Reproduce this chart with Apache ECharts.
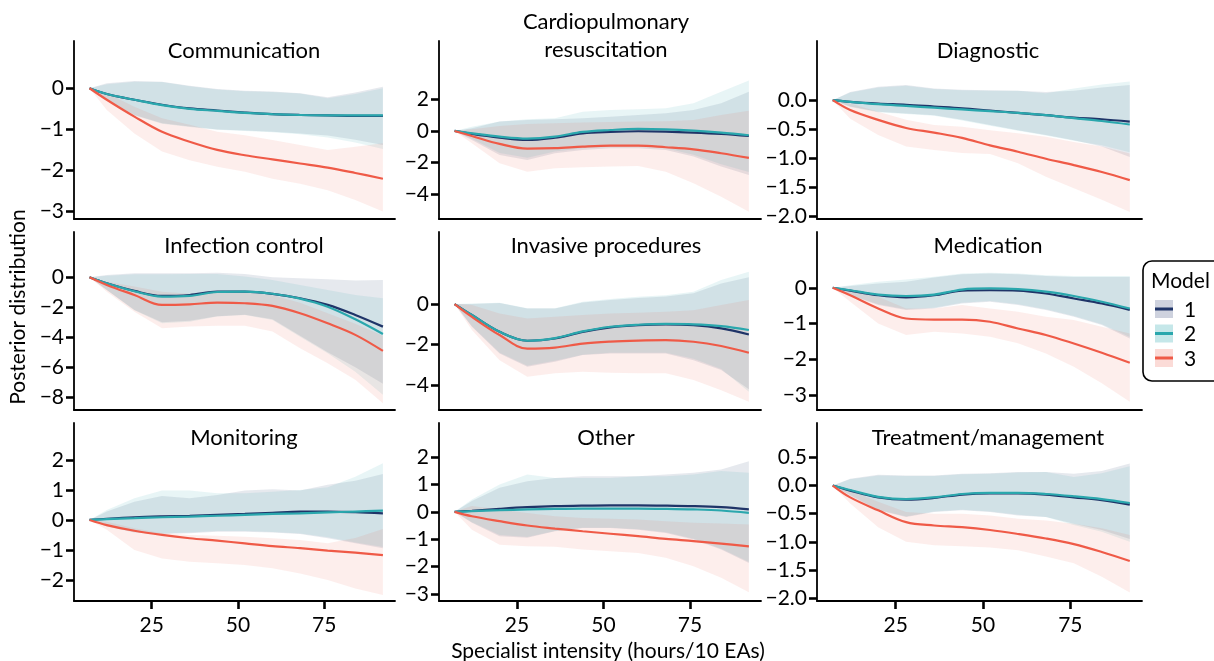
<!DOCTYPE html>
<html>
<head>
<meta charset="utf-8">
<script src="https://cdn.jsdelivr.net/npm/echarts@6/dist/echarts.min.js"></script>
<style>html,body{margin:0;padding:0;background:#fff}#c{width:1214px;height:661px}</style>
</head>
<body>
<div id="c"></div>
<script>
// ---------- DATA ----------
const xs = [7, 12, 20, 28, 36, 44, 52, 60, 68, 76, 84, 92];
const xTicks = [25, 50, 75];
const models = ['1', '2', '3'];
const panelTitles = ['Communication', 'Cardiopulmonary\nresuscitation', 'Diagnostic',
  'Infection control', 'Invasive procedures', 'Medication',
  'Monitoring', 'Other', 'Treatment/management'];
const xTitle = 'Specialist intensity (hours/10 EAs)';
const yTitle = 'Posterior distribution';

// y tick labels per panel
const yTicksComm = [-3, -2, -1, 0];
const yTicksCpr = [-4, -2, 0, 2];
const yTicksDiag = [-2, -1.5, -1, -0.5, 0];
const yTicksInfc = [-8, -6, -4, -2, 0];
const yTicksInv = [-4, -2, 0];
const yTicksMed = [-3, -2, -1, 0];
const yTicksMon = [-2, -1, 0, 1, 2];
const yTicksOth = [-3, -2, -1, 0, 1, 2];
const yTicksTrt = [-2, -1.5, -1, -0.5, 0, 0.5];

// Communication
const comm_m1 = [0, -0.14, -0.28, -0.40, -0.49, -0.54, -0.59, -0.63, -0.65, -0.66, -0.67, -0.67];
const comm_m2 = [0, -0.14, -0.28, -0.41, -0.50, -0.55, -0.60, -0.63, -0.65, -0.66, -0.66, -0.66];
const comm_m3 = [0, -0.28, -0.69, -1.06, -1.30, -1.50, -1.63, -1.73, -1.83, -1.93, -2.06, -2.20];
const comm_hi1 = [0, 0.12, 0.18, 0.16, 0.06, -0.02, -0.06, -0.08, -0.12, -0.22, -0.10, 0.04];
const comm_lo1 = [0, -0.28, -0.65, -0.85, -0.93, -1.00, -1.03, -1.06, -1.10, -1.15, -1.25, -1.38];
const comm_hi2 = [0, 0.10, 0.16, 0.15, 0.05, -0.03, -0.07, -0.09, -0.13, -0.24, -0.14, 0.00];
const comm_lo2 = [0, -0.30, -0.66, -0.86, -0.94, -1.01, -1.04, -1.07, -1.12, -1.20, -1.32, -1.48];
const comm_hi3 = [0, -0.12, -0.45, -0.73, -0.89, -1.06, -1.14, -1.26, -1.38, -1.50, -1.42, -1.34];
const comm_lo3 = [0, -0.53, -1.10, -1.54, -1.75, -1.91, -2.03, -2.20, -2.32, -2.48, -2.72, -3.00];

// Cardiopulmonary resuscitation
const cpr_m1 = [0, -0.19, -0.42, -0.57, -0.42, -0.15, -0.06, -0.02, -0.04, -0.10, -0.19, -0.32];
const cpr_m2 = [0, -0.15, -0.36, -0.48, -0.36, -0.06, 0.06, 0.13, 0.10, 0.02, -0.10, -0.27];
const cpr_m3 = [0, -0.32, -0.82, -1.12, -1.09, -0.99, -0.93, -0.93, -1.03, -1.16, -1.41, -1.70];
const cpr_hi1 = [0, 0.17, 0.59, 0.69, 0.74, 0.80, 0.90, 1.01, 1.12, 1.33, 1.75, 2.48];
const cpr_lo1 = [0, -0.57, -1.52, -1.83, -1.41, -1.20, -1.09, -1.09, -1.20, -1.62, -2.25, -2.78];
const cpr_hi2 = [0, 0.27, 0.59, 0.74, 0.80, 1.22, 1.33, 1.37, 1.43, 1.75, 2.48, 3.18];
const cpr_lo2 = [0, -0.50, -1.40, -1.70, -1.30, -1.10, -1.00, -1.00, -1.10, -1.50, -2.10, -2.60];
const cpr_hi3 = [0, 0.10, 0.32, 0.44, 0.48, 0.53, 0.57, 0.59, 0.61, 0.69, 1.01, 1.28];
const cpr_lo3 = [0, -0.78, -2.04, -2.57, -2.36, -2.29, -2.25, -2.21, -2.57, -3.30, -4.15, -5.10];

// Diagnostic
const diag_m1 = [0, -0.03, -0.06, -0.08, -0.11, -0.14, -0.18, -0.22, -0.26, -0.30, -0.33, -0.37];
const diag_m2 = [0, -0.03, -0.07, -0.10, -0.13, -0.16, -0.19, -0.22, -0.26, -0.31, -0.36, -0.42];
const diag_m3 = [0, -0.17, -0.34, -0.48, -0.56, -0.65, -0.78, -0.89, -1.01, -1.12, -1.24, -1.38];
const diag_hi1 = [0, 0.14, 0.23, 0.26, 0.20, 0.18, 0.17, 0.16, 0.14, 0.16, 0.22, 0.26];
const diag_lo1 = [0, -0.11, -0.20, -0.23, -0.26, -0.34, -0.43, -0.52, -0.60, -0.69, -0.80, -0.98];
const diag_hi2 = [0, 0.13, 0.22, 0.25, 0.19, 0.17, 0.16, 0.16, 0.12, 0.20, 0.27, 0.32];
const diag_lo2 = [0, -0.12, -0.21, -0.24, -0.27, -0.35, -0.44, -0.53, -0.61, -0.70, -0.78, -0.90];
const diag_hi3 = [0, -0.06, -0.20, -0.34, -0.43, -0.46, -0.52, -0.57, -0.63, -0.72, -0.80, -0.92];
const diag_lo3 = [0, -0.32, -0.60, -0.80, -0.86, -0.91, -0.93, -1.09, -1.32, -1.52, -1.72, -1.93];

// Infection control
const infc_m1 = [0, -0.40, -0.91, -1.24, -1.18, -0.96, -0.96, -1.11, -1.40, -1.84, -2.51, -3.29];
const infc_m2 = [0, -0.40, -0.93, -1.29, -1.24, -0.98, -0.96, -1.10, -1.42, -1.96, -2.80, -3.78];
const infc_m3 = [0, -0.51, -1.18, -1.84, -1.80, -1.69, -1.73, -1.91, -2.40, -3.07, -3.84, -4.91];
const infc_hi1 = [0, 0.16, 0.27, 0.27, 0.27, 0.31, 0.22, 0.00, -0.07, -0.13, -0.22, -0.18];
const infc_lo1 = [0, -0.84, -2.18, -3.00, -2.90, -2.60, -2.50, -2.80, -3.90, -5.00, -6.00, -7.10];
const infc_hi2 = [0, 0.10, 0.20, 0.20, 0.22, 0.22, 0.05, -0.18, -0.51, -0.84, -1.18, -1.40];
const infc_lo2 = [0, -0.84, -2.20, -3.07, -2.96, -2.62, -2.51, -2.84, -3.96, -5.07, -6.30, -7.84];
const infc_hi3 = [0, -0.29, -0.62, -0.96, -1.10, -1.00, -1.00, -1.20, -1.70, -2.40, -3.10, -3.90];
const infc_lo3 = [0, -0.96, -2.29, -3.40, -3.29, -3.24, -3.24, -3.62, -4.73, -5.73, -6.84, -8.40];

// Invasive procedures
const inv_m1 = [0, -0.54, -1.37, -1.81, -1.70, -1.37, -1.15, -1.04, -1.00, -1.04, -1.20, -1.50];
const inv_m2 = [0, -0.54, -1.37, -1.81, -1.68, -1.35, -1.12, -1.02, -0.98, -1.00, -1.09, -1.28];
const inv_m3 = [0, -0.63, -1.53, -2.20, -2.15, -1.95, -1.85, -1.80, -1.78, -1.86, -2.07, -2.40];
const inv_hi1 = [0, 0.00, 0.05, -0.22, -0.22, 0.08, 0.20, 0.30, 0.38, 0.53, 1.02, 1.32];
const inv_lo1 = [0, -1.12, -2.44, -3.09, -2.85, -2.52, -2.44, -2.44, -2.44, -2.77, -3.26, -4.20];
const inv_hi2 = [0, 0.03, 0.07, -0.21, -0.21, 0.12, 0.25, 0.36, 0.44, 0.61, 1.19, 1.60];
const inv_lo2 = [0, -1.10, -2.40, -3.05, -2.80, -2.50, -2.40, -2.40, -2.40, -2.70, -3.20, -4.33];
const inv_hi3 = [0, -0.05, -0.46, -0.71, -0.63, -0.54, -0.46, -0.43, -0.38, -0.30, -0.05, 0.20];
const inv_lo3 = [0, -1.28, -2.77, -3.59, -3.42, -3.34, -3.39, -3.42, -3.42, -3.75, -4.25, -4.82];

// Medication
const med_m1 = [0, -0.08, -0.21, -0.27, -0.21, -0.08, -0.07, -0.08, -0.16, -0.30, -0.44, -0.62];
const med_m2 = [0, -0.07, -0.19, -0.23, -0.19, -0.05, -0.02, -0.04, -0.11, -0.23, -0.39, -0.58];
const med_m3 = [0, -0.21, -0.58, -0.86, -0.89, -0.89, -0.95, -1.14, -1.32, -1.56, -1.82, -2.10];
const med_hi1 = [0, 0.05, 0.12, 0.17, 0.29, 0.38, 0.40, 0.38, 0.33, 0.30, 0.30, 0.30];
const med_lo1 = [0, -0.21, -0.48, -0.62, -0.58, -0.44, -0.39, -0.48, -0.62, -0.81, -1.04, -1.42];
const med_hi2 = [0, 0.07, 0.17, 0.23, 0.31, 0.40, 0.42, 0.40, 0.35, 0.33, 0.33, 0.33];
const med_lo2 = [0, -0.20, -0.46, -0.60, -0.56, -0.42, -0.37, -0.46, -0.60, -0.79, -1.02, -1.38];
const med_hi3 = [0, -0.07, -0.25, -0.58, -0.58, -0.48, -0.58, -0.67, -0.81, -0.90, -1.09, -1.28];
const med_lo3 = [0, -0.39, -1.00, -1.32, -1.23, -1.28, -1.37, -1.55, -1.84, -2.21, -2.67, -3.19];

// Monitoring
const mon_m1 = [0, 0.04, 0.09, 0.12, 0.14, 0.17, 0.20, 0.24, 0.28, 0.28, 0.26, 0.22];
const mon_m2 = [0, 0.03, 0.06, 0.09, 0.11, 0.14, 0.17, 0.20, 0.22, 0.25, 0.28, 0.31];
const mon_m3 = [0, -0.17, -0.36, -0.50, -0.61, -0.69, -0.78, -0.87, -0.94, -1.02, -1.09, -1.17];
const mon_hi1 = [0, 0.28, 0.61, 0.80, 0.72, 0.83, 0.98, 1.02, 0.98, 1.17, 1.31, 1.53];
const mon_lo1 = [0, -0.22, -0.42, -0.47, -0.44, -0.39, -0.39, -0.42, -0.47, -0.61, -0.78, -0.94];
const mon_hi2 = [0, 0.33, 0.72, 0.98, 0.98, 0.89, 0.89, 0.94, 1.00, 1.09, 1.44, 1.89];
const mon_lo2 = [0, -0.20, -0.40, -0.45, -0.42, -0.37, -0.37, -0.40, -0.45, -0.58, -0.75, -0.90];
const mon_hi3 = [0, -0.06, -0.28, -0.44, -0.50, -0.53, -0.56, -0.61, -0.67, -0.78, -0.60, -0.30];
const mon_lo3 = [0, -0.33, -1.00, -1.28, -1.39, -1.44, -1.50, -1.61, -1.78, -2.00, -2.28, -2.50];

// Other
const oth_m1 = [0, 0.04, 0.11, 0.17, 0.21, 0.23, 0.24, 0.24, 0.23, 0.21, 0.17, 0.09];
const oth_m2 = [0, 0.03, 0.06, 0.09, 0.11, 0.12, 0.12, 0.12, 0.11, 0.09, 0.05, -0.04];
const oth_m3 = [0, -0.16, -0.34, -0.50, -0.61, -0.71, -0.80, -0.89, -0.99, -1.07, -1.16, -1.26];
const oth_hi1 = [0, 0.40, 0.88, 1.12, 1.24, 1.30, 1.30, 1.30, 1.37, 1.43, 1.55, 1.85];
const oth_lo1 = [0, -0.40, -0.89, -0.95, -0.71, -0.59, -0.59, -0.65, -0.77, -1.01, -1.38, -1.87];
const oth_hi2 = [0, 0.45, 1.00, 1.37, 1.24, 1.24, 1.24, 1.30, 1.30, 1.37, 1.49, 1.43];
const oth_lo2 = [0, -0.38, -0.85, -0.92, -0.70, -0.58, -0.58, -0.64, -0.75, -0.98, -1.35, -1.83];
const oth_hi3 = [0, 0.21, 0.09, -0.04, -0.16, -0.22, -0.25, -0.28, -0.34, -0.40, -0.43, -0.46];
const oth_lo3 = [0, -0.65, -1.20, -1.26, -1.28, -1.38, -1.44, -1.50, -1.68, -1.99, -2.41, -2.94];

// Treatment/management
const trt_m1 = [0, -0.09, -0.21, -0.25, -0.22, -0.16, -0.14, -0.14, -0.16, -0.21, -0.26, -0.34];
const trt_m2 = [0, -0.08, -0.20, -0.24, -0.21, -0.15, -0.13, -0.13, -0.15, -0.19, -0.24, -0.31];
const trt_m3 = [0, -0.21, -0.44, -0.65, -0.71, -0.74, -0.79, -0.86, -0.94, -1.04, -1.18, -1.34];
const trt_hi1 = [0, 0.12, 0.19, 0.18, 0.18, 0.21, 0.22, 0.24, 0.24, 0.21, 0.26, 0.39];
const trt_lo1 = [0, -0.18, -0.44, -0.56, -0.47, -0.44, -0.47, -0.53, -0.56, -0.68, -0.79, -0.95];
const trt_hi2 = [0, 0.11, 0.18, 0.17, 0.17, 0.20, 0.21, 0.23, 0.24, 0.15, 0.22, 0.34];
const trt_lo2 = [0, -0.17, -0.43, -0.55, -0.46, -0.43, -0.46, -0.52, -0.56, -0.70, -0.82, -1.00];
const trt_hi3 = [0, -0.09, -0.29, -0.47, -0.50, -0.50, -0.53, -0.59, -0.62, -0.68, -0.76, -0.88];
const trt_lo3 = [0, -0.32, -0.74, -1.00, -1.06, -1.08, -1.10, -1.15, -1.26, -1.38, -1.62, -1.90];

// ---------- LAYOUT / STYLE ----------
const FONT = 'Lato';
const lineColors = ['#1f3468', '#2aa7ad', '#ef5a47'];
const ribbonColors = ['rgba(31,52,104,0.11)', 'rgba(42,167,173,0.11)', 'rgba(239,90,71,0.10)'];
const legendFill = ['rgba(31,52,104,0.22)', 'rgba(42,167,173,0.27)', 'rgba(239,90,71,0.22)'];

const colLeft = [74, 439, 817];
const colWidth = [321, 322, 325];
const rowTop = [41, 232, 423];
const rowHeight = 178;
const titleX = [244, 606, 988];
const titleY = [51, 246, 438];

const panelData = [
  [comm_m1, comm_m2, comm_m3, comm_lo1, comm_hi1, comm_lo2, comm_hi2, comm_lo3, comm_hi3],
  [cpr_m1, cpr_m2, cpr_m3, cpr_lo1, cpr_hi1, cpr_lo2, cpr_hi2, cpr_lo3, cpr_hi3],
  [diag_m1, diag_m2, diag_m3, diag_lo1, diag_hi1, diag_lo2, diag_hi2, diag_lo3, diag_hi3],
  [infc_m1, infc_m2, infc_m3, infc_lo1, infc_hi1, infc_lo2, infc_hi2, infc_lo3, infc_hi3],
  [inv_m1, inv_m2, inv_m3, inv_lo1, inv_hi1, inv_lo2, inv_hi2, inv_lo3, inv_hi3],
  [med_m1, med_m2, med_m3, med_lo1, med_hi1, med_lo2, med_hi2, med_lo3, med_hi3],
  [mon_m1, mon_m2, mon_m3, mon_lo1, mon_hi1, mon_lo2, mon_hi2, mon_lo3, mon_hi3],
  [oth_m1, oth_m2, oth_m3, oth_lo1, oth_hi1, oth_lo2, oth_hi2, oth_lo3, oth_hi3],
  [trt_m1, trt_m2, trt_m3, trt_lo1, trt_hi1, trt_lo2, trt_hi2, trt_lo3, trt_hi3]
];
const yTickSets = [yTicksComm, yTicksCpr, yTicksDiag, yTicksInfc, yTicksInv, yTicksMed, yTicksMon, yTicksOth, yTicksTrt];
const yRanges = [[-3.18, 1.15], [-5.56, 5.68], [-2.05, 1.02], [-8.85, 3.02], [-5.23, 3.56],
  [-3.42, 1.56], [-2.7, 3.23], [-3.26, 3.25], [-2.05, 1.11]];
const yDecimals = [0, 0, 1, 0, 0, 0, 0, 0, 1];

function fmt(v, d) {
  const s = Math.abs(v).toFixed(d);
  return (v < -1e-9 ? '\u2212' : '') + s;
}

const grids = [], xAxes = [], yAxes = [], series = [], graphics = [];
for (let p = 0; p < 9; p++) {
  const r = Math.floor(p / 3), c = p % 3;
  const bottom = r === 2;
  grids.push({ left: colLeft[c], top: rowTop[r], width: colWidth[c], height: rowHeight, containLabel: false });
  xAxes.push({
    type: 'value', gridIndex: p, min: 2.5, max: 95.5,
    splitLine: { show: false },
    axisLine: { show: true, onZero: false, lineStyle: { color: '#000', width: 1.8 } },
    axisTick: { show: bottom, customValues: xTicks, length: 8, lineStyle: { color: '#000', width: 2.6 } },
    axisLabel: { show: bottom, customValues: xTicks, color: '#000', fontFamily: FONT, fontSize: 21, margin: 14 }
  });
  const dec = yDecimals[p];
  yAxes.push({
    type: 'value', gridIndex: p, min: yRanges[p][0], max: yRanges[p][1],
    splitLine: { show: false },
    axisLine: { show: true, onZero: false, lineStyle: { color: '#000', width: 1.8 } },
    axisTick: { show: true, customValues: yTickSets[p], length: 8, lineStyle: { color: '#000', width: 2.6 } },
    axisLabel: { customValues: yTickSets[p], color: '#000', fontFamily: FONT, fontSize: 21, margin: 10,
      formatter: v => fmt(v, dec) }
  });
  const d = panelData[p];
  for (let m = 0; m < 3; m++) {
    const lo = d[3 + 2 * m], hi = d[4 + 2 * m];
    series.push({
      type: 'custom', xAxisIndex: p, yAxisIndex: p, silent: true, z: 1 + m,
      data: xs.map((x, i) => [x, lo[i], hi[i]]),
      encode: { x: 0, y: [1, 2] },
      renderItem: (params, api) => {
        if (params.dataIndex !== 0) return null;
        const top = [], bot = [];
        for (let i = 0; i < xs.length; i++) {
          top.push(api.coord([xs[i], hi[i]]));
          bot.push(api.coord([xs[i], lo[i]]));
        }
        return { type: 'polygon', shape: { points: top.concat(bot.reverse()) },
          style: { fill: ribbonColors[m] } };
      }
    });
  }
  for (let m = 0; m < 3; m++) {
    series.push({
      type: 'line', name: models[m], xAxisIndex: p, yAxisIndex: p, z: 10 + m,
      data: xs.map((x, i) => [x, d[m][i]]),
      smooth: 0.35, showSymbol: false, silent: true,
      lineStyle: { color: lineColors[m], width: 2.2 }
    });
  }
  graphics.push({
    type: 'text', x: titleX[c], y: titleY[r] - (p === 1 ? 15 : 0),
    style: { text: panelTitles[p], fill: '#000', font: '22px ' + FONT, align: 'center',
      verticalAlign: 'middle', lineHeight: 28 }
  });
}

// axis titles
graphics.push({ type: 'text', x: 608, y: 651,
  style: { text: xTitle, fill: '#000', font: '21px ' + FONT, align: 'center', verticalAlign: 'middle' } });
graphics.push({ type: 'text', x: 18, y: 307, rotation: Math.PI / 2,
  style: { text: yTitle, fill: '#000', font: '21px ' + FONT, align: 'center', verticalAlign: 'middle' } });

// legend
graphics.push({ type: 'rect', shape: { x: 1143, y: 261, width: 90, height: 120, r: 9 },
  style: { fill: '#fff', stroke: '#000', lineWidth: 1.6 } });
graphics.push({ type: 'text', x: 1151, y: 281,
  style: { text: 'Model', fill: '#000', font: '21px ' + FONT, align: 'left', verticalAlign: 'middle' } });
for (let m = 0; m < 3; m++) {
  const yc = 309 + m * 24.5;
  graphics.push({ type: 'rect', shape: { x: 1155, y: yc - 9, width: 18, height: 18 },
    style: { fill: legendFill[m] } });
  graphics.push({ type: 'line', shape: { x1: 1155, y1: yc, x2: 1173, y2: yc },
    style: { stroke: lineColors[m], lineWidth: 3 } });
  graphics.push({ type: 'text', x: 1184, y: yc + 1,
    style: { text: models[m], fill: '#000', font: '21px ' + FONT, align: 'left', verticalAlign: 'middle' } });
}

const chart = echarts.init(document.getElementById('c'), null, { renderer: 'canvas' });
chart.setOption({
  animation: false,
  backgroundColor: '#fff',
  grid: grids, xAxis: xAxes, yAxis: yAxes, series: series, graphic: graphics
});
</script>
</body>
</html>
